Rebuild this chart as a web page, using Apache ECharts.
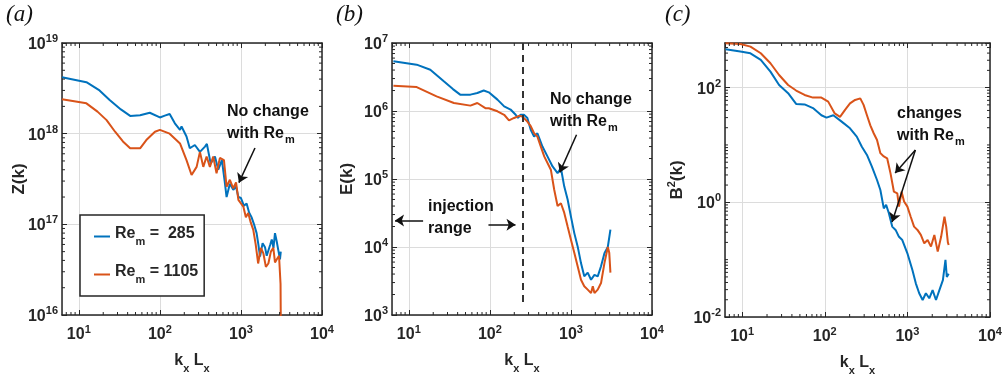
<!DOCTYPE html>
<html><head><meta charset="utf-8">
<script src="https://cdn.jsdelivr.net/npm/echarts@6/dist/echarts.min.js"></script>
<style>html,body{margin:0;padding:0;background:#fff}#c{width:1006px;height:381px}</style>
</head><body><div id="c"></div>
<script>
// ---------- data ----------
const seriesNames = ['Re_m = 285', 'Re_m = 1105'];
const kRange = [6.2, 10000];

// (a) Z(k)
const zBlueK = [6.2,12.4,18,24,33,43,57,75,100,115,132,153,177,185,213,234,270,312,360,380,423,478,525,582,630,665,730,804,870,930,1000,1090,1175,1260,1350,1450,1560,1640,1720,1850,1980,2080,2180,2300,2400,2520,2630,2760,2890,3030,3100];
const zBlueV = [4.2e18,3.7e18,3.0e18,2.35e18,1.85e18,1.57e18,1.6e18,1.7e18,1.51e18,1.58e18,1.65e18,1.3e18,1.1e18,1.2e18,9.3e17,6.9e17,7.5e17,6.3e17,7.2e17,7.7e17,4.7e17,5.6e17,4.0e17,5.1e17,3.0e17,2.0e17,2.8e17,2.4e17,2.6e17,2.0e17,1.95e17,1.6e17,1.7e17,1.35e17,1.2e17,1.0e17,8.0e16,6.0e16,4.4e16,6.2e16,5.6e16,4.5e16,4.4e16,6.0e16,6.8e16,5.5e16,8.0e16,6.5e16,5.2e16,4.1e16,5.0e16];
const zOrangeK = [6.2,12.4,17,22,28,35,43,57,68,87,100,132,177,213,246,284,312,343,377,414,455,500,550,617,665,730,804,870,930,1000,1070,1150,1230,1320,1420,1520,1630,1760,1890,2030,2180,2340,2510,2630,2760,2950,3080,3100];
const zOrangeV = [2.4e18,2.16e18,1.75e18,1.41e18,1.05e18,8.2e17,6.9e17,6.9e17,8.5e17,1.05e18,1.1e18,1.0e18,7.8e17,5.1e17,3.5e17,4.3e17,6.3e17,4.3e17,5.6e17,4.3e17,5.6e17,3.65e17,5.4e17,5.1e17,2.6e17,3.1e17,2.5e17,2.9e17,1.86e17,1.7e17,1.57e17,1.2e17,1.33e17,1.05e17,8.7e16,6.0e16,3.7e16,5.5e16,4.8e16,3.4e16,3.7e16,5.0e16,5.5e16,3.8e16,4.1e16,4.5e16,2.2e16,9e15];

// (b) E(k)
const eBlueK = [6.45,12.5,18.4,27,35,43,57.5,70,84,97,124,150,180,208,222,240,263,290,319,351,386,445,513,593,684,752,826,910,1000,1100,1210,1330,1460,1610,1770,1950,2140,2350,2590,2850,3070];
const eBlueV = [5.4e6,4.8e6,4.05e6,2.73e6,2.1e6,1.74e6,1.74e6,1.84e6,2.0e6,1.88e6,1.47e6,1.17e6,1.05e6,8.8e5,7.9e5,8.8e5,8.8e5,7.9e5,5.3e5,4.2e5,4.7e5,3.0e5,2.15e5,1.53e5,1.22e5,1.45e5,7.8e4,5.0e4,2.8e4,1.6e4,1.02e4,5.8e3,3.7e3,4.2e3,3.3e3,3.9e3,3.7e3,5.2e3,8.1e3,1.0e4,1.8e4];
const eOrangeK = [6.45,12.5,22,36,57.5,70,88,97,124,150,172,199,229,251,290,319,351,386,425,468,565,621,684,752,826,910,1000,1100,1210,1330,1460,1610,1770,1860,1950,2140,2350,2590,2850,2970,3070];
const eOrangeV = [2.36e6,2.25e6,1.64e6,1.31e6,1.2e6,1.31e6,1.1e6,1.1e6,9.9e5,8.8e5,7.3e5,7.9e5,8.5e5,8.3e5,7.0e5,6.0e5,4.7e5,4.2e5,3.0e5,2.15e5,1.37e5,7.0e4,4.0e4,4.4e4,3.2e4,2.0e4,1.28e4,8.2e3,5.2e3,3.3e3,2.65e3,2.36e3,2.1e3,2.65e3,2.1e3,2.36e3,2.95e3,5.8e3,1.0e4,8.2e3,4.2e3];

// (c) B^2(k)
const bBlueK = [6.3,9.5,12.6,16.8,22,28,36,45,57,72,91,105,127,160,202,244,281,324,372,429,471,518,553,597,655,720,791,868,1000,1150,1265,1390,1530,1675,1840,2020,2220,2440,2690,2890,3000,3160];
const bBlueV = [467,425,397,304,190,111,80,52,51,44,33,30,33,25.5,19.5,14,9.3,6.7,4.2,2.45,1.64,0.785,0.9,0.645,0.377,0.33,0.25,0.22,0.129,0.066,0.0386,0.0259,0.0198,0.0259,0.0212,0.0295,0.0198,0.0295,0.044,0.099,0.05,0.057];
const bOrangeK = [6.3,9.5,12.6,16.8,22,28,36,45,57,72,91,110,132,153,176,202,233,269,295,324,356,391,429,471,518,569,625,687,755,791,851,912,1000,1097,1205,1325,1455,1600,1757,1930,2120,2330,2560,2810,2950,3090,3160];
const bOrangeV = [593,578,519,398,266,166,111,89,74.5,67,67,57,35.5,31,41,53,61,65,50,33,22,16,12.2,7.2,6.3,5.85,3.2,1.53,1.43,0.84,1.53,1.03,0.84,0.56,0.377,0.33,0.27,0.193,0.22,0.169,0.27,0.138,0.25,0.56,0.377,0.2,0.18];

// annotation anchors in data space
const injectionK = 251;

// minor tick positions (log axes: mantissas 2..9 in each decade)
const minorMantissas = [2, 3, 4, 5, 6, 7, 8, 9];
const minorDecadesX = [0, 1, 2, 3];
const minorDecadesY = [[16, 17, 18], [3, 4, 5, 6], [-2, -1, 0, 1, 2]];
const extraMinorY = [[], [], [0.1, 10]];

// ---------- styling helpers ----------
const BLUE = '#0072BD', ORANGE = '#D95319', AX = '#262626';
const FONT = 'Liberation Sans, Arial, sans-serif';
const zip = (k, v) => k.map((x, i) => [x, v[i]]);
const supRich = {
  b: {fontSize: 16, fontWeight: 'bold', fontFamily: FONT, color: AX, verticalAlign: 'bottom', lineHeight: 19},
  s: {fontSize: 11, fontWeight: 'bold', fontFamily: FONT, color: AX, verticalAlign: 'top', lineHeight: 19}
};
const nameRich = {
  b: {fontSize: 17, fontWeight: 'bold', fontFamily: FONT, color: AX, verticalAlign: 'bottom', lineHeight: 20},
  s: {fontSize: 11, fontWeight: 'bold', fontFamily: FONT, color: AX, verticalAlign: 'top', lineHeight: 20}
};
const subRich = {
  b: {fontSize: 16, fontWeight: 'bold', fontFamily: FONT, color: AX, verticalAlign: 'top', lineHeight: 21},
  s: {fontSize: 11, fontWeight: 'bold', fontFamily: FONT, color: AX, verticalAlign: 'bottom', lineHeight: 21}
};
function powLabel(v) {
  const e = Math.log10(v), r = Math.round(e);
  if (Math.abs(e - r) > 1e-6) return '';
  return '{b|10}{s|' + r + '}';
}
const grids = [
  {left: 62, top: 43, width: 260, height: 272},
  {left: 392, top: 43, width: 260, height: 272},
  {left: 725, top: 43, width: 265, height: 274}
];
const yCfg = [
  {min: 1e16, max: 1e19, name: '{b|Z(k)}', gap: 34},
  {min: 1e3, max: 1e7, name: '{b|E(k)}', gap: 36},
  {min: 1e-2, max: 600, name: '{b|B}{s|2}{b|(k)}', gap: 39, interval: 2}
];
const xAxes = [], yAxes = [];
grids.forEach((g, i) => {
  const common = {type: 'log', logBase: 10, gridIndex: i,
    axisLine: {show: true, lineStyle: {color: AX, width: 1.5}},
    axisTick: {show: true, inside: true, length: 5, lineStyle: {color: AX, width: 1}}};
  xAxes.push(Object.assign({}, common, {min: kRange[0], max: kRange[1], position: 'bottom',
    name: '{b|k}{s|x}{b| L}{s|x}', nameLocation: 'middle', nameGap: 38, nameMoveOverlap: false,
    nameTextStyle: {rich: subRich},
    axisLabel: {formatter: powLabel, rich: supRich, margin: 9, showMinLabel: false},
    splitLine: {show: true, lineStyle: {color: '#dcdcdc', width: 1}}}));
  xAxes.push(Object.assign({}, common, {min: kRange[0], max: kRange[1], position: 'top',
    axisLabel: {show: false}, splitLine: {show: false}}));
  const y = yCfg[i];
  const yc = Object.assign({}, common, {min: y.min, max: y.max});
  if (y.interval) yc.interval = y.interval;
  yAxes.push(Object.assign({}, yc, {position: 'left', name: y.name, nameLocation: 'middle', nameGap: y.gap,
    nameMoveOverlap: false, nameTextStyle: {rich: nameRich},
    axisLabel: {formatter: powLabel, rich: supRich, margin: 4},
    splitLine: {show: true, lineStyle: {color: '#dcdcdc', width: 1}}}));
  yAxes.push(Object.assign({}, yc, {position: 'right', axisLabel: {show: false}, splitLine: {show: false}}));
});

const arrowML = (pairs, extra) => Object.assign({
  silent: true, symbol: ['none', 'arrow'], symbolSize: 9, label: {show: false},
  lineStyle: {color: '#111', width: 1.5, type: 'solid'},
  data: pairs.map(p => [{coord: p[0]}, {coord: p[1]}])
}, extra || {});

function line(name, color, data, i, extra) {
  return Object.assign({type: 'line', name, data, xAxisIndex: 2 * i, yAxisIndex: 2 * i,
    symbol: 'none', showSymbol: false, clip: true, smooth: false,
    lineStyle: {color, width: 2}, itemStyle: {color}, emphasis: {disabled: true}, z: color === BLUE ? 3 : 4}, extra || {});
}

// minor ticks drawn through the axis scales (api.coord)
const minorX = [];
minorDecadesX.forEach(d => minorMantissas.forEach(m => { const v = m * Math.pow(10, d); if (v > kRange[0] && v < kRange[1]) minorX.push(v); }));
function minorTickSeries(i) {
  const y = yCfg[i];
  const ys = extraMinorY[i].slice();
  minorDecadesY[i].forEach(d => minorMantissas.forEach(m => { const v = m * Math.pow(10, d); if (v > y.min && v < y.max) ys.push(v); }));
  const L = 3;
  const style = {stroke: AX, lineWidth: 1};
  return [{
    type: 'custom', xAxisIndex: 2 * i, yAxisIndex: 2 * i, silent: true, z: 5, clip: false,
    data: minorX.map(v => [v, y.min]),
    renderItem: (params, api) => {
      const cs = params.coordSys; const px = api.coord([api.value(0), y.min])[0];
      return {type: 'group', children: [
        {type: 'line', shape: {x1: px, y1: cs.y + cs.height, x2: px, y2: cs.y + cs.height - L}, style},
        {type: 'line', shape: {x1: px, y1: cs.y, x2: px, y2: cs.y + L}, style}]};
    }
  }, {
    type: 'custom', xAxisIndex: 2 * i, yAxisIndex: 2 * i, silent: true, z: 5, clip: false,
    data: ys.map(v => [kRange[0], v]),
    renderItem: (params, api) => {
      const cs = params.coordSys; const py = api.coord([kRange[0], api.value(1)])[1];
      return {type: 'group', children: [
        {type: 'line', shape: {x1: cs.x, y1: py, x2: cs.x + L, y2: py}, style},
        {type: 'line', shape: {x1: cs.x + cs.width, y1: py, x2: cs.x + cs.width - L, y2: py}, style}]};
    }
  }];
}

const series = [
  line(seriesNames[0], BLUE, zip(zBlueK, zBlueV), 0),
  line(seriesNames[1], ORANGE, zip(zOrangeK, zOrangeV), 0, {
    markLine: arrowML([[[1490, 6.95e17], [944, 2.88e17]]])}),
  line(seriesNames[0], BLUE, zip(eBlueK, eBlueV), 1),
  line(seriesNames[1], ORANGE, zip(eOrangeK, eOrangeV), 1, {
    markLine: arrowML([[[1172, 4.48e5], [728, 1.25e5]], [[15.0, 2.46e4], [6.76, 2.46e4]], [[96, 2.13e4], [207, 2.13e4]]])}),
  {type: 'line', xAxisIndex: 2, yAxisIndex: 2, data: [], silent: true,
    markLine: {silent: true, symbol: ['none', 'none'], label: {show: false},
      lineStyle: {color: '#333', width: 2, type: [7, 5]},
      data: [[{coord: [injectionK, 1e7]}, {coord: [injectionK, 1400]}]]}},
  line(seriesNames[0], BLUE, zip(bBlueK, bBlueV), 2),
  line(seriesNames[1], ORANGE, zip(bOrangeK, bOrangeV), 2, {
    markLine: arrowML([[[1250, 8.2], [711, 3.24]], [[1250, 8.2], [653, 0.453]]])}),
  ...minorTickSeries(0), ...minorTickSeries(1), ...minorTickSeries(2)
];

const annRich = {
  t: {fontSize: 16, fontWeight: 'bold', fontFamily: FONT, fill: '#111', lineHeight: 22},
  m: {fontSize: 11, fontWeight: 'bold', fontFamily: FONT, fill: '#111', lineHeight: 22, padding: [12, 0, 0, 1]}
};
const annText = (left, top, txt) => ({type: 'text', left, top, z: 10,
  style: {text: txt, rich: annRich, fill: '#111'}});
const panelLabel = (left, letter) => ({type: 'text', left, top: 3, z: 10,
  style: {text: '(' + letter + ')', fontSize: 23, fontFamily: 'Liberation Serif, Times New Roman, serif', fontStyle: 'italic', fill: '#111'}});

const option = {
  animation: false,
  backgroundColor: '#fff',
  grid: grids,
  xAxis: xAxes,
  yAxis: yAxes,
  legend: {
    show: true, orient: 'vertical', left: 80, top: 215,
    data: seriesNames, icon: 'rect', itemWidth: 16, itemHeight: 2, itemGap: 17,
    padding: [11, 6, 11, 14], borderColor: AX, borderWidth: 1.5, backgroundColor: '#fff',
    selectedMode: false,
    formatter: n => n === seriesNames[0] ? '{b|Re}{s|m}{b| =  285}' : '{b|Re}{s|m}{b| = 1105}',
    textStyle: {rich: subRich}
  },
  graphic: [
    panelLabel(6, 'a'), panelLabel(336, 'b'), panelLabel(665, 'c'),
    annText(227, 104, '{t|No change}\n{t|with Re}{m|m}'),
    annText(550, 92, '{t|No change}\n{t|with Re}{m|m}'),
    annText(897, 106, '{t|changes}\n{t|with Re}{m|m}'),
    annText(428, 199, '{t|injection}\n{t|range}')
  ],
  series
};
const chart = echarts.init(document.getElementById('c'), null, {renderer: 'canvas'});
chart.setOption(option);
</script></body></html>
